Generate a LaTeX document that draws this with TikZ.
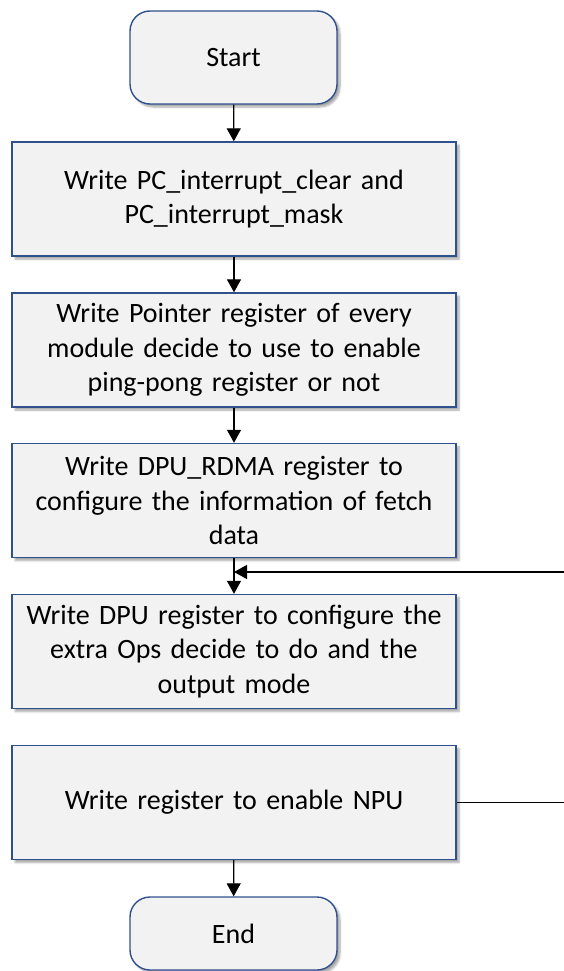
\documentclass[tikz,border=0pt]{standalone}
\usepackage{fontspec}
\setmainfont{Carlito}
\usetikzlibrary{arrows.meta,shadows.blur}
\definecolor{boxfill}{HTML}{F2F2F2}
\definecolor{boxline}{HTML}{2F528F}
\newcommand{\myboxfont}{\fontsize{28}{34.5}\selectfont\spaceskip=0.19em plus 0.05em minus 0.05em\relax}
\begin{document}
\begin{tikzpicture}[x=1pt,y=-1pt,
  base/.style={draw=boxline, fill=boxfill, line width=1.4pt, align=center,
    font=\myboxfont, inner sep=0pt,
    blur shadow={shadow xshift=3pt, shadow yshift=-3pt, shadow blur steps=6, shadow opacity=35}},
  stepbox/.style={base, minimum width=444pt, minimum height=114pt, text width=440pt},
  term/.style={base, rounded corners=20pt, minimum width=207pt},
  conn/.style={line width=1.3pt, -{Triangle[length=13pt,width=14pt]}}
]
\useasboundingbox (0,0) rectangle (564,971);
\node[term, minimum height=93pt] (start) at (233.5,57.5) {Start};
\node[stepbox] (b1) at (234,199) {Write PC\_interrupt\_clear and\\PC\_interrupt\_mask};
\node[stepbox] (b2) at (234,350) {Write Pointer register of every\\module decide to use to enable\\ping-pong register or not};
\node[stepbox] (b3) at (234,500.5) {Write DPU\_RDMA register to\\configure the information of fetch\\data};
\node[stepbox] (b4) at (234,651.5) {Write DPU register to configure the\\extra Ops decide to do and the\\output mode};
\node[stepbox] (b5) at (234,802.5) {Write register to enable NPU};
\node[term, minimum height=73pt] (end) at (233.5,933.5) {End};
\coordinate (j) at (234,572);
\coordinate (r1) at (600,802.5);
\coordinate (r2) at (600,572);
\draw[conn] (start) -- (b1);
\draw[conn] (b1) -- (b2);
\draw[conn] (b2) -- (b3);
\draw[conn] (b3) -- (b4);
\draw[conn] (b5) -- (end);
\draw[conn] (b5.east) -- (r1) -- (r2) -- (j);
\end{tikzpicture}
\end{document}
